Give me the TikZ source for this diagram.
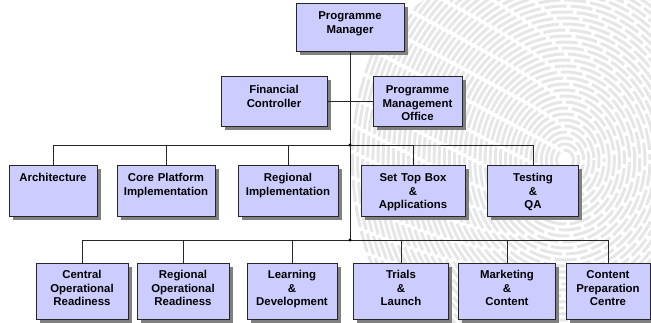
\documentclass[tikz,border=0pt]{standalone}
\usepackage{fontspec}
\setmainfont{Liberation Sans}
\usetikzlibrary{shadows}
\definecolor{boxblue}{RGB}{204,204,255}
\definecolor{printgray}{RGB}{230,230,230}

\begin{document}
\begin{tikzpicture}[x=1pt,y=-1pt,
  team/.style={draw=black!85,fill=boxblue,line width=0.7pt,anchor=north,align=center,
    font=\fontsize{11.4}{13.7}\selectfont\bfseries,inner xsep=0pt,inner ysep=0pt,
    drop shadow={shadow xshift=3.5pt,shadow yshift=-3.5pt,fill=black!50,opacity=1}},
  head/.style={team,text height=16pt,text depth=32pt},
  staff/.style={team,text height=17pt,text depth=33pt},
  stream/.style={team,text height=16pt,text depth=35pt},
  readiness/.style={team,text height=15pt,text depth=41pt},
  link/.style={black!85,line width=0.7pt}]
\useasboundingbox (0,0) rectangle (651,323);

% fingerprint watermark
\begin{scope}
\clip (565,160) ellipse (235 and 200);
\foreach \r in {10,16,...,250} {
  \draw[printgray,line width=3pt,dash pattern=on 22pt off 4pt,dash phase=\r]
    (565,160) ellipse ({0.85*\r} and \r);
}
\end{scope}

\node[head,text width=108pt] (pm) at (350,3) {Programme\\Manager};
\node[staff,text width=106pt] (fc) at (274,76) {Financial\\Controller};
\node[staff,text width=89pt] (pmo) at (417.5,76) {Programme\\Management\\Office};

\node[stream,text width=88pt] (arch) at (53,165) {Architecture};
\node[stream,text width=98pt] (core) at (166,165) {Core Platform\\Implementation};
\node[stream,text width=100pt] (regimpl) at (288,165) {Regional\\Implementation};
\node[stream,text width=104pt] (stb) at (413,165) {Set Top Box\\\&\\Applications};
\node[stream,text width=91pt] (test) at (533,165) {Testing\\\&\\QA};

\node[readiness,text width=92pt] (cor) at (82,263) {Central\\Operational\\Readiness};
\node[readiness,text width=92pt] (ror) at (183,263) {Regional\\Operational\\Readiness};
\node[readiness,text width=90pt] (ld) at (292,263) {Learning\\\&\\Development};
\node[readiness,text width=95pt] (trials) at (401,263) {Trials\\\&\\Launch};
\node[readiness,text width=97pt] (mkt) at (507,263) {Marketing\\\&\\Content};
\node[readiness,text width=84pt] (cpc) at (608,263) {Content\\Preparation\\Centre};

\coordinate (bus1) at (pm.south |- 0,145);
\coordinate (bus2) at (pm.south |- 0,240);

\draw[link] (pm.south) -- (bus2);
\draw[link] (fc.east) -- (pmo.west);
\draw[link] (arch.north) |- (bus1) -| (test.north);
\draw[link] (bus1) -| (core.north);
\draw[link] (bus1) -| (regimpl.north);
\draw[link] (bus1) -| (stb.north);
\draw[link] (cor.north) |- (bus2) -| (cpc.north);
\foreach \n in {ror,ld,trials,mkt} {
  \draw[link] (bus2) -| (\n.north);
}
\fill (bus1) circle (1.6pt);
\fill (bus2) circle (1.6pt);
\end{tikzpicture}
\end{document}
